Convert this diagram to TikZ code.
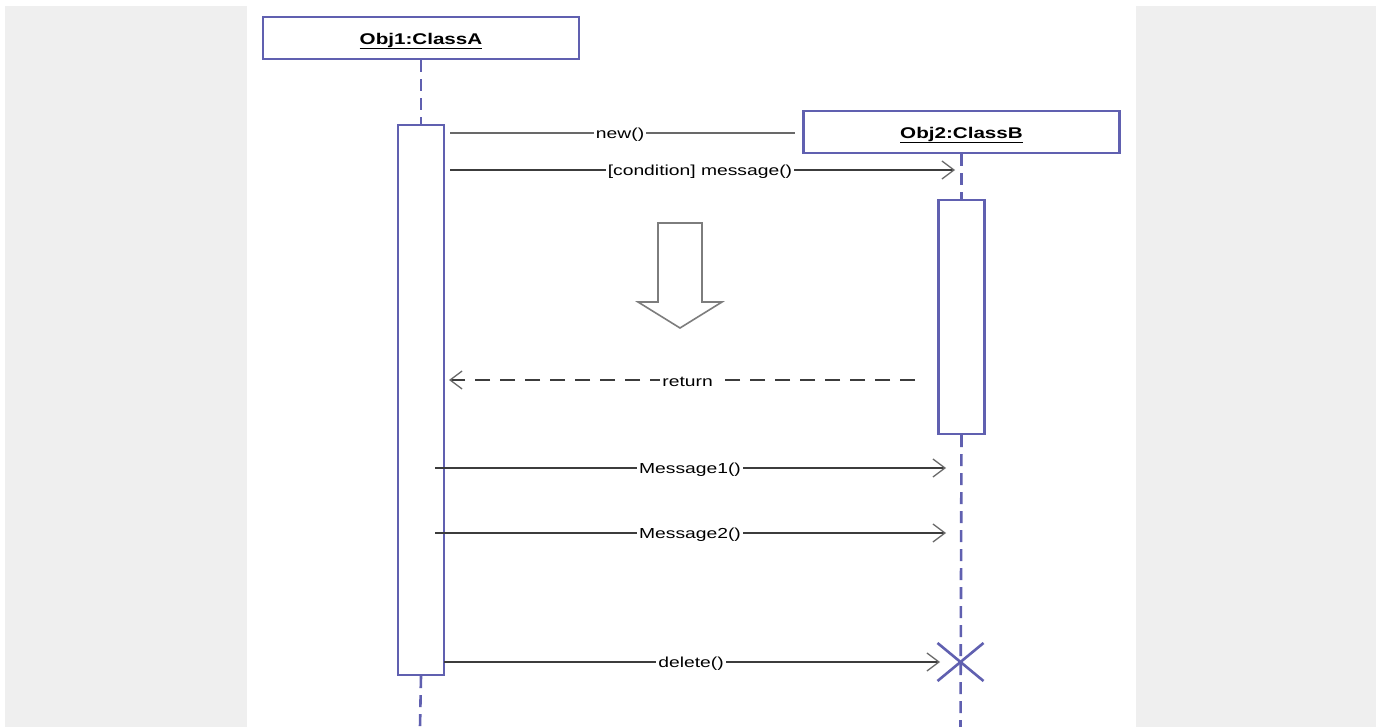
\documentclass[tikz,border=0pt]{standalone}
\usepackage{fontspec}
\setmainfont{Liberation Sans}
\usetikzlibrary{arrows.meta,calc}
\definecolor{umlblue}{RGB}{96,96,176}
\definecolor{panelgray}{RGB}{239,239,239}
\definecolor{msggray}{RGB}{60,60,60}
\definecolor{tipgray}{RGB}{105,105,105}
\definecolor{blockgray}{RGB}{125,125,125}
\newcommand\widetxt[1]{\scalebox{1.33}[1]{#1}}
\tikzset{
  objbox/.style={draw=umlblue, line width=2.4pt, fill=white, minimum width=316pt, minimum height=42pt, inner sep=0pt,
    font=\fontsize{15.5}{18}\selectfont\bfseries},
  objtitle/.style={inner sep=0pt, font=\fontsize{15.5}{18}\selectfont\bfseries},
  actbox/.style={draw=umlblue, line width=2.2pt, fill=white, minimum width=46pt, inner sep=0pt},
  lifeline/.style={draw=umlblue, line width=2.6pt, dash pattern=on 12pt off 7pt},
  msg/.style={draw=msggray, line width=1.2pt},
  opentip/.style={-{Straight Barb[length=12pt,width=18pt,line width=1.3pt,color=tipgray]}},
  lbl/.style={fill=white, inner xsep=2pt, inner ysep=1pt, yshift=-1.5pt, text=black, font=\fontsize{14.5}{17}\selectfont},
}
\begin{document}
\begin{tikzpicture}[x=1pt, y=-1pt]
  % page and side panels
  \useasboundingbox (0,0) rectangle (1380,727);
  \fill[white] (0,0) rectangle (1380,727);
  \fill[panelgray] (5,6) rectangle (247,727);
  \fill[panelgray] (1136,6) rectangle (1376,727);

  % lifeline ends at the bottom of the page
  \coordinate (l1end) at (420,727);
  \coordinate (l2end) at (960.5,727);

  % objects and activation bars
  \node[objbox] (o1) at (421,38) {};
  \node[objtitle] (t1) at (421,41) {\widetxt{\underline{Obj1:ClassA}}};
  \node[actbox, minimum height=550pt] (a1) at (421,400) {};
  \node[objbox] (o2) at (961.5,132) {};
  \node[objtitle] (t2) at (961.5,135) {\widetxt{\underline{Obj2:ClassB}}};
  \node[actbox, minimum height=234pt] (a2) at (961.5,317) {};

  % lifelines
  \draw[lifeline] (o1.south) -- (a1.north);
  \draw[lifeline] (a1.south) -- (l1end);
  \draw[lifeline] (o2.south) -- (a2.north);
  \draw[lifeline] (a2.south) -- (l2end);

  % message end points
  \coordinate (newS) at (450,133);   \coordinate (newE) at (795,133);
  \coordinate (condS) at (450,170);  \coordinate (condE) at (955,170);
  \coordinate (retS) at (915,380);   \coordinate (retE) at (449,380);
  \coordinate (m1S) at (435,468);    \coordinate (m1E) at (946,468);
  \coordinate (m2S) at (435,533);    \coordinate (m2E) at (946,533);
  \coordinate (delS) at (444,662);   \coordinate (delE) at (940,662);

  % messages
  \draw[msg, draw=tipgray] (newS) -- node[lbl, pos=0.493] (lnew) {\widetxt{new()}} (newE);
  \draw[msg, opentip] (condS) -- node[lbl, pos=0.495] (lcond) {\widetxt{[condition] message()}} (condE);
  \draw[msg, opentip, dash pattern=on 15pt off 10pt] (retS) -- node[lbl, pos=0.488] (lret) {\widetxt{return}} (retE);
  \draw[msg, opentip] (m1S) -- node[lbl, pos=0.499] (lm1) {\widetxt{Message1()}} (m1E);
  \draw[msg, opentip] (m2S) -- node[lbl, pos=0.499] (lm2) {\widetxt{Message2()}} (m2E);
  \draw[msg, opentip] (delS) -- node[lbl, pos=0.498] (ldel) {\widetxt{delete()}} (delE);

  % hollow block arrow showing time flow
  \draw[draw=blockgray, line width=1.6pt, line join=miter, fill=white]
    (658,223) -- (702,223) -- (702,302) -- (722,302) -- (680,328) -- (638,302) -- (658,302) -- cycle;

  % destruction mark
  \coordinate (xc) at (960.5,662);
  \draw[umlblue, line width=2.6pt] ($(xc)+(-23,-19)$) -- ($(xc)+(23,19)$);
  \draw[umlblue, line width=2.6pt] ($(xc)+(23,-19)$) -- ($(xc)+(-23,19)$);
\end{tikzpicture}
\end{document}
